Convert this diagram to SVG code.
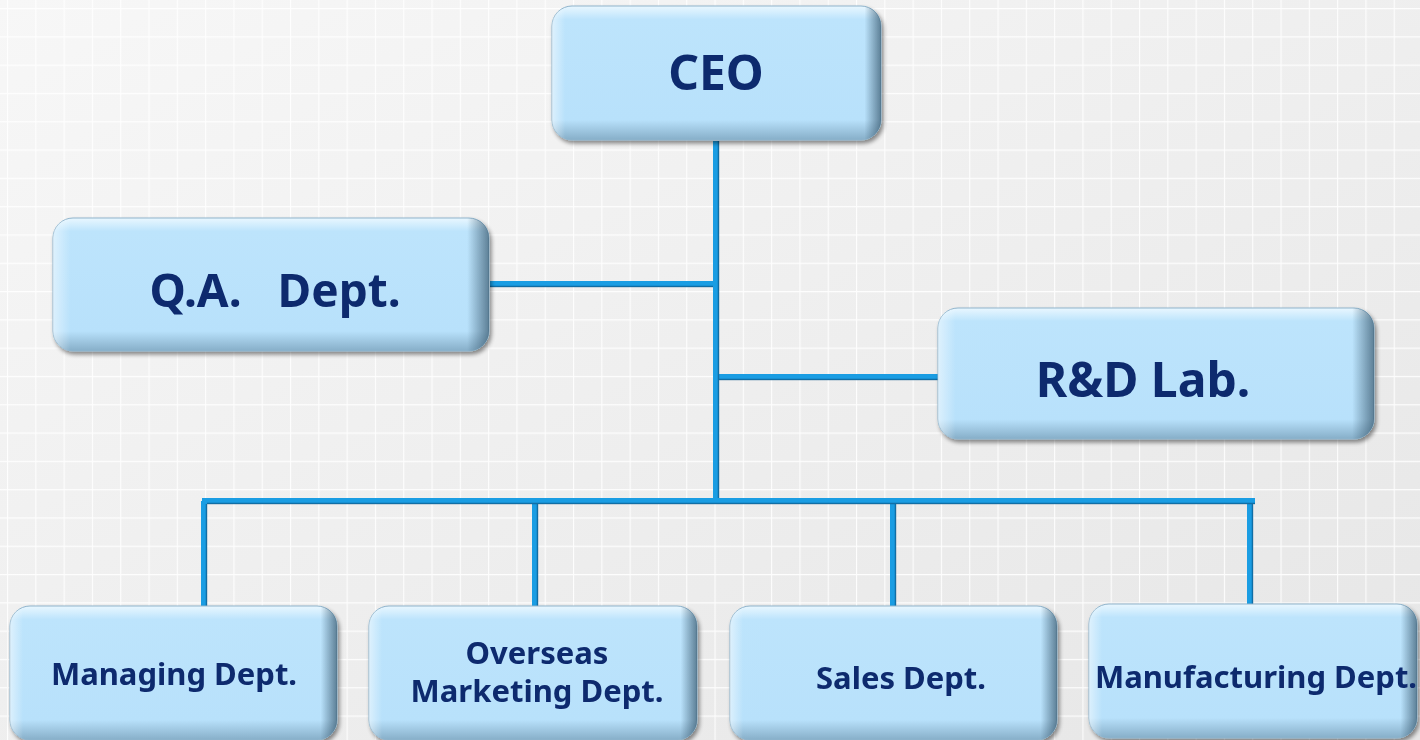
<svg xmlns="http://www.w3.org/2000/svg" width="1420" height="740" viewBox="0 0 1420 740">
<defs>
<linearGradient id="bg" x1="0" y1="0" x2="1" y2="1">
<stop offset="0" stop-color="#f7f7f7"/>
<stop offset="1" stop-color="#e6e6e6"/>
</linearGradient>
<pattern id="grid" width="28.3" height="28.3" patternUnits="userSpaceOnUse" x="7" y="8">
<path d="M0 0H28.3M0 0V28.3" fill="none" stroke="#ffffff" stroke-width="2.2" opacity="0.9"/>
</pattern>
<linearGradient id="nodeFill" x1="0" y1="0" x2="0" y2="1">
<stop offset="0" stop-color="#e9f7ff"/>
<stop offset="0.1" stop-color="#bde4fc"/>
<stop offset="0.85" stop-color="#b8e1fb"/>
<stop offset="1" stop-color="#86aec8"/>
</linearGradient>
<linearGradient id="edgeR" x1="0" y1="0" x2="1" y2="0">
<stop offset="0" stop-color="#ffffff" stop-opacity="0.5"/>
<stop offset="0.04" stop-color="#ffffff" stop-opacity="0"/>
<stop offset="0.95" stop-color="#2a4a60" stop-opacity="0"/>
<stop offset="1" stop-color="#2a4a60" stop-opacity="0.65"/>
</linearGradient>
<filter id="sh" x="-10%" y="-10%" width="125%" height="130%">
<feGaussianBlur in="SourceAlpha" stdDeviation="2"/>
<feOffset dx="2" dy="3" result="b"/>
<feComponentTransfer><feFuncA type="linear" slope="0.45"/></feComponentTransfer>
<feMerge><feMergeNode/><feMergeNode in="SourceGraphic"/></feMerge>
</filter>
</defs>
<style>
.box{fill:url(#nodeFill);stroke:#8fb4cc;stroke-width:1}
.edge{fill:url(#edgeR);stroke:none}
.lbl{font-family:"Noto Sans","Open Sans","DejaVu Sans",sans-serif;font-weight:bold;fill:#0f2a6e;text-anchor:middle}
.big{font-size:48px}
.small{font-size:31px}
.ln{stroke:#1a9de3;stroke-width:6;fill:none}
.lnd{stroke:#0d5a8a;stroke-width:1.5;fill:none;opacity:0.7}
</style>
<rect width="1420" height="740" fill="url(#bg)"/>
<rect width="1420" height="740" fill="url(#grid)"/>
<g id="connectors">
<path class="ln" d="M716 141V501"/>
<path class="ln" d="M490 284H713"/>
<path class="ln" d="M716 377H938"/>
<path class="ln" d="M202 501H1255"/>
<path class="ln" d="M204 501V606M535 501V606M893 501V606M1250 501V604"/>
<path class="lnd" d="M490 286.5H713M719 379.5H938M207 503.5H1255M718.5 141V498M206.5 504V606M537.5 504V606M895.5 504V606M1252.5 504V604"/>
</g>
<g id="ceo" filter="url(#sh)">
<rect class="box" x="552" y="6" width="329" height="134" rx="20"/>
<rect class="edge" x="552" y="6" width="329" height="134" rx="20"/>
<text class="lbl big" x="716" y="90">CEO</text>
</g>
<g id="qa" filter="url(#sh)">
<rect class="box" x="53" y="218" width="436" height="133" rx="20"/>
<rect class="edge" x="53" y="218" width="436" height="133" rx="20"/>
<text class="lbl big" x="275" y="307" style="font-size:46px" xml:space="preserve">Q.A.   Dept.</text>
</g>
<g id="rnd" filter="url(#sh)">
<rect class="box" x="938" y="308" width="436" height="131" rx="20"/>
<rect class="edge" x="938" y="308" width="436" height="131" rx="20"/>
<text class="lbl big" x="1143" y="397">R&amp;D Lab.</text>
</g>
<g id="managing" filter="url(#sh)">
<rect class="box" x="10" y="606" width="327" height="134" rx="20"/>
<rect class="edge" x="10" y="606" width="327" height="134" rx="20"/>
<text class="lbl small" x="174" y="685">Managing Dept.</text>
</g>
<g id="overseas" filter="url(#sh)">
<rect class="box" x="369" y="606" width="328" height="134" rx="20"/>
<rect class="edge" x="369" y="606" width="328" height="134" rx="20"/>
<text class="lbl small" x="537" y="664">Overseas</text>
<text class="lbl small" x="537" y="702">Marketing Dept.</text>
</g>
<g id="sales" filter="url(#sh)">
<rect class="box" x="730" y="606" width="327" height="134" rx="20"/>
<rect class="edge" x="730" y="606" width="327" height="134" rx="20"/>
<text class="lbl small" x="901" y="689">Sales Dept.</text>
</g>
<g id="manufacturing" filter="url(#sh)">
<rect class="box" x="1089" y="604" width="328" height="134" rx="20"/>
<rect class="edge" x="1089" y="604" width="328" height="134" rx="20"/>
<text class="lbl small" x="1256" y="688">Manufacturing Dept.</text>
</g>
</svg>
